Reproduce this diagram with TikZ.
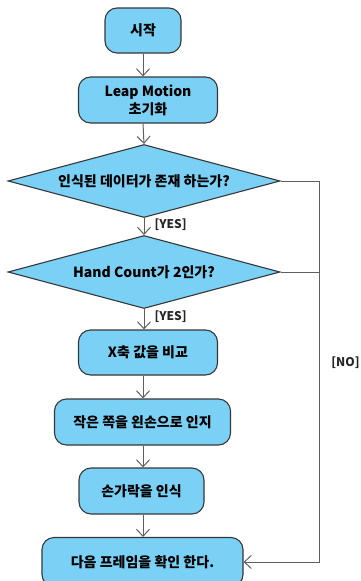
\documentclass[tikz,border=0pt]{standalone}
\usepackage{fontspec}
\usepackage{tikz}
\usetikzlibrary{positioning, shapes.geometric, arrows.meta}
\newfontfamily\korFont{Noto Sans CJK KR}
\definecolor{boxColor}{RGB}{122,208,245}
\definecolor{borderColor}{RGB}{55,55,55}
\definecolor{lineColor}{RGB}{95,95,95}
\tikzstyle{canvas} = [x = 1pt, y = -1pt, every node/.style={font=\korFont\bfseries\fontsize{14}{18}\selectfont, align=center}]
\tikzstyle{stepStyle} = [draw=borderColor, fill=boxColor, rounded corners = 12pt, line width=1.1pt, inner sep=0pt]
\tikzstyle{decisionStyle} = [draw=borderColor, fill=boxColor, diamond, aspect=3.7, line width=1.1pt, inner sep=0pt, minimum width=272pt, minimum height=73pt]
\tikzstyle{flowLine} = [color=lineColor, line width=1pt]
\tikzstyle{flowArrow} = [flowLine, -{Straight Barb[length=7pt, width=13pt]}]
\tikzstyle{guardText} = [font=\korFont\bfseries\fontsize{12}{14}\selectfont, color=black!85]
\newcommand{\flowStep}[5]{\node [stepStyle, minimum width=#3pt, minimum height=#4pt] (#1) at (#2) {#5};}
\newcommand{\flowDecision}[3]{\node [decisionStyle] (#1) at (#2) {#3};}

\begin{document}
\begin{tikzpicture}[canvas]
  \useasboundingbox (0,0) rectangle (361,581);
  % steps
  \flowStep{start}{143,30.5}{76}{45}{시작}
  \flowStep{leapInit}{148,100}{139}{46}{Leap Motion\\초기화}
  \flowDecision{dataCheck}{144,181}{인식된 데이터가 존재 하는가?}
  \flowDecision{handCheck}{144,272}{Hand Count가 2인가?}
  \flowStep{xCompare}{148,352.5}{139}{45}{X축 값을 비교}
  \flowStep{leftHand}{142.5,422}{176}{46}{작은 쪽을 왼손으로 인지}
  \flowStep{fingers}{141.5,491}{125}{46}{손가락을 인식}
  \flowStep{nextFrame}{142.5,562}{201}{49}{다음 프레임을 확인 한다.}
  \coordinate (noRail) at (319,562);
  % connectors
  \draw [flowArrow] (start.south) -- (start.south |- leapInit.north);
  \draw [flowArrow] (leapInit.south -| start) -- (dataCheck.north);
  \draw [flowArrow] (dataCheck.south) -- (handCheck.north);
  \draw [flowArrow] (handCheck.south) -- (handCheck.south |- xCompare.north);
  \draw [flowArrow] (xCompare.south -| start) -- (start |- leftHand.north);
  \draw [flowArrow] (leftHand.south -| start) -- (start |- fingers.north);
  \draw [flowArrow] (fingers.south -| start) -- (start |- nextFrame.north);
  \draw [flowArrow] (dataCheck.east) -| (noRail) -- (nextFrame.east);
  \draw [flowLine] (handCheck.east) -- (handCheck.east -| noRail);
  % guards
  \node [guardText, anchor=west] (yesData) at (151,225) {[YES]};
  \node [guardText, anchor=west] (yesHand) at (151,317) {[YES]};
  \node [guardText] (noGuard) at (345.5,363) {[NO]};
\end{tikzpicture}
\end{document}
